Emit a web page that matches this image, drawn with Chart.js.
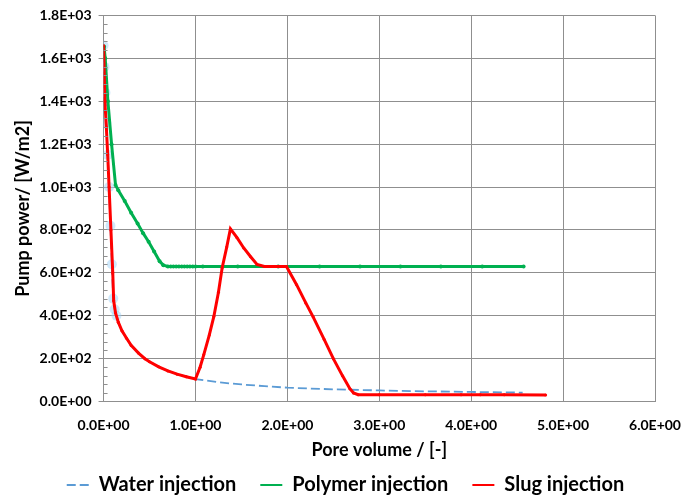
<!DOCTYPE html>
<html><head><meta charset="utf-8">
<script src="https://cdn.jsdelivr.net/npm/chart.js@4.4.0/dist/chart.umd.min.js"></script>
<style>html,body{margin:0;padding:0;background:#fff}#wrap{width:683px;height:497px}</style>
</head><body><div id="wrap"><canvas id="c" width="683" height="497"></canvas></div>
<script>
// ---- data ----
const xTicks = [0, 1, 2, 3, 4, 5, 6];
const yTicks = [0, 200, 400, 600, 800, 1000, 1200, 1400, 1600, 1800];
const yMinorStep = 40;

const waterX = [0.0, 0.01, 0.02, 0.03, 0.045, 0.06, 0.075, 0.09, 0.105, 0.12, 0.14, 0.17, 0.2, 0.25, 0.3, 0.38, 0.45, 0.5, 0.6, 0.7, 0.8, 0.9, 1.0, 1.25, 1.5, 1.75, 2.0, 2.5, 3.0, 3.5, 4.0, 4.56];
const waterY = [1660, 1560, 1440, 1300, 1150, 1000, 820, 640, 480, 430, 400, 360, 330, 295, 262, 226, 200, 186, 162, 143, 128, 116, 105, 90, 80, 72, 65, 57, 52, 48, 45, 42];

const polymerX = [0.005, 0.018, 0.047, 0.087, 0.13, 0.16, 0.23, 0.3, 0.37, 0.43, 0.49, 0.55, 0.61, 0.65, 0.7, 0.73, 0.76, 0.79, 0.82, 0.85, 0.88, 0.91, 0.94, 0.97, 1.0, 1.08, 1.46, 1.90, 2.35, 2.79, 3.23, 3.67, 4.12, 4.57];
const polymerY = [1655, 1600, 1400, 1200, 1010, 985, 935, 880, 830, 785, 745, 700, 654, 636, 630, 630, 630, 630, 630, 630, 630, 630, 630, 630, 630, 630, 630, 630, 630, 630, 630, 630, 630, 630];

const slugX = [0.0, 0.014, 0.03, 0.045, 0.06, 0.08, 0.1, 0.11, 0.13, 0.16, 0.2, 0.25, 0.3, 0.38, 0.45, 0.5, 0.6, 0.7, 0.8, 0.9, 1.0, 1.05, 1.09, 1.15, 1.2, 1.25, 1.29, 1.34, 1.38, 1.45, 1.525, 1.6, 1.67, 1.75, 1.85, 1.99, 2.1, 2.2, 2.28, 2.4, 2.5, 2.6, 2.68, 2.72, 2.77, 3.0, 3.5, 3.89, 4.1, 4.36, 4.81];
const slugY = [1660, 1400, 1280, 1150, 1000, 800, 600, 470, 413, 370, 330, 295, 262, 226, 200, 186, 162, 143, 128, 116, 105, 160, 218, 310, 397, 510, 623, 720, 805, 765, 716, 675, 639, 630, 630, 630, 545, 460, 395, 290, 200, 120, 60, 40, 32, 32, 32, 32, 32, 32, 31];

const seriesNames = ['Water injection', 'Polymer injection', 'Slug injection'];
const xTitle = 'Pore volume / [-]';
const yTitle = 'Pump power/ [W/m2]';

// ---- helpers ----
function sci(v) {
  if (Math.abs(v) < 1e-9) return '0.0E+00';
  let e = Math.floor(Math.log10(Math.abs(v)));
  let m = Math.round(v / Math.pow(10, e) * 10) / 10;
  if (Math.abs(m) >= 10) { m /= 10; e++; }
  return m.toFixed(1) + 'E' + (e < 0 ? '-' : '+') + String(Math.abs(e)).padStart(2, '0');
}
const pts = (xs, ys) => xs.map((x, i) => ({x: x, y: ys[i]}));

const FONT = 'Lato, "Open Sans", sans-serif';
const GRID = '#8f8f8f';

const minorTicks = {
  id: 'minorTicks',
  afterDatasetsDraw(chart) {
    const y = chart.scales.y, ctx = chart.ctx, left = chart.chartArea.left;
    ctx.save();
    ctx.strokeStyle = GRID; ctx.lineWidth = 1;
    for (let v = y.min; v <= y.max + 1e-9; v += yMinorStep) {
      if (Math.round(v) % 200 === 0) continue;
      const py = Math.round(y.getPixelForValue(v)) + 0.5;
      ctx.beginPath(); ctx.moveTo(left, py); ctx.lineTo(left + 4, py); ctx.stroke();
    }
    ctx.restore();
  }
};

// trims the legend box so it sits lower
const legendTrim = {
  id: 'legendTrim',
  beforeLayout(chart) {
    const lg = chart.legend;
    if (lg && !lg.__trim) {
      const f = lg.fit;
      lg.fit = function () { f.apply(this, arguments); this.height -= 8; };
      lg.__trim = true;
    }
  }
};

new Chart(document.getElementById('c'), {
  type: 'scatter',
  data: {
    datasets: [
      {
        label: seriesNames[0], data: pts(waterX, waterY), showLine: true,
        borderColor: '#5B9BD5', borderWidth: 1.8, borderDash: [9, 4],
        pointRadius: c => (c.raw && c.raw.x <= 0.15 ? 5 : 0),
        pointBackgroundColor: 'rgba(160,210,245,0.5)', pointBorderWidth: 0,
        pointHoverRadius: 0, order: 3
      },
      {
        label: seriesNames[1], data: pts(polymerX, polymerY), showLine: true,
        borderColor: '#00B050', borderWidth: 3,
        pointRadius: 2, pointBackgroundColor: '#00B050', pointBorderWidth: 0, order: 2
      },
      {
        label: seriesNames[2], data: pts(slugX, slugY), showLine: true,
        borderColor: '#FF0000', borderWidth: 3,
        pointRadius: 1.5, pointBackgroundColor: '#FF0000', pointBorderWidth: 0, order: 1
      }
    ]
  },
  options: {
    responsive: false, animation: false, devicePixelRatio: 1,
    layout: {padding: {left: 8, right: 0, top: 7, bottom: 0}},
    plugins: {
      tooltip: {enabled: false},
      legend: {
        position: 'bottom',
        labels: {
          usePointStyle: true, pointStyle: 'line', pointStyleWidth: 22,
          padding: 24, color: '#000',
          font: {family: FONT, size: 20, weight: 'bold'},
          sort: (a, b) => a.datasetIndex - b.datasetIndex,
          generateLabels: chart => {
            const items = Chart.defaults.plugins.legend.labels.generateLabels(chart);
            items.forEach(it => {
              const ds = chart.data.datasets[it.datasetIndex];
              it.strokeStyle = ds.borderColor; it.fillStyle = ds.borderColor;
              it.lineWidth = 2; it.lineDash = ds.borderDash || []; it.pointStyle = 'line';
            });
            return items;
          }
        }
      }
    },
    scales: {
      x: {
        type: 'linear', min: xTicks[0], max: xTicks[xTicks.length - 1],
        afterBuildTicks: s => { s.ticks = xTicks.map(v => ({value: v})); },
        afterFit: s => { s.paddingRight = 28; },
        ticks: {callback: v => sci(v), color: '#000', padding: 15, maxRotation: 0,
          font: {family: FONT, size: 14, weight: 'bold'}},
        grid: {color: GRID, drawTicks: false},
        border: {color: GRID},
        title: {display: true, text: xTitle, color: '#000', padding: {top: -9, bottom: -10},
          font: {family: FONT, size: 18, weight: 'bold'}}
      },
      y: {
        type: 'linear', min: yTicks[0], max: yTicks[yTicks.length - 1],
        afterBuildTicks: s => { s.ticks = yTicks.map(v => ({value: v})); },
        ticks: {callback: v => sci(v), color: '#000', padding: 7,
          font: {family: FONT, size: 14, weight: 'bold'}},
        grid: {color: GRID, tickLength: 5},
        border: {color: GRID},
        title: {display: true, text: yTitle, color: '#000', padding: {top: 4, bottom: -1},
          font: {family: FONT, size: 18, weight: 'bold'}}
      }
    }
  },
  plugins: [minorTicks, legendTrim]
});
</script></body></html>
